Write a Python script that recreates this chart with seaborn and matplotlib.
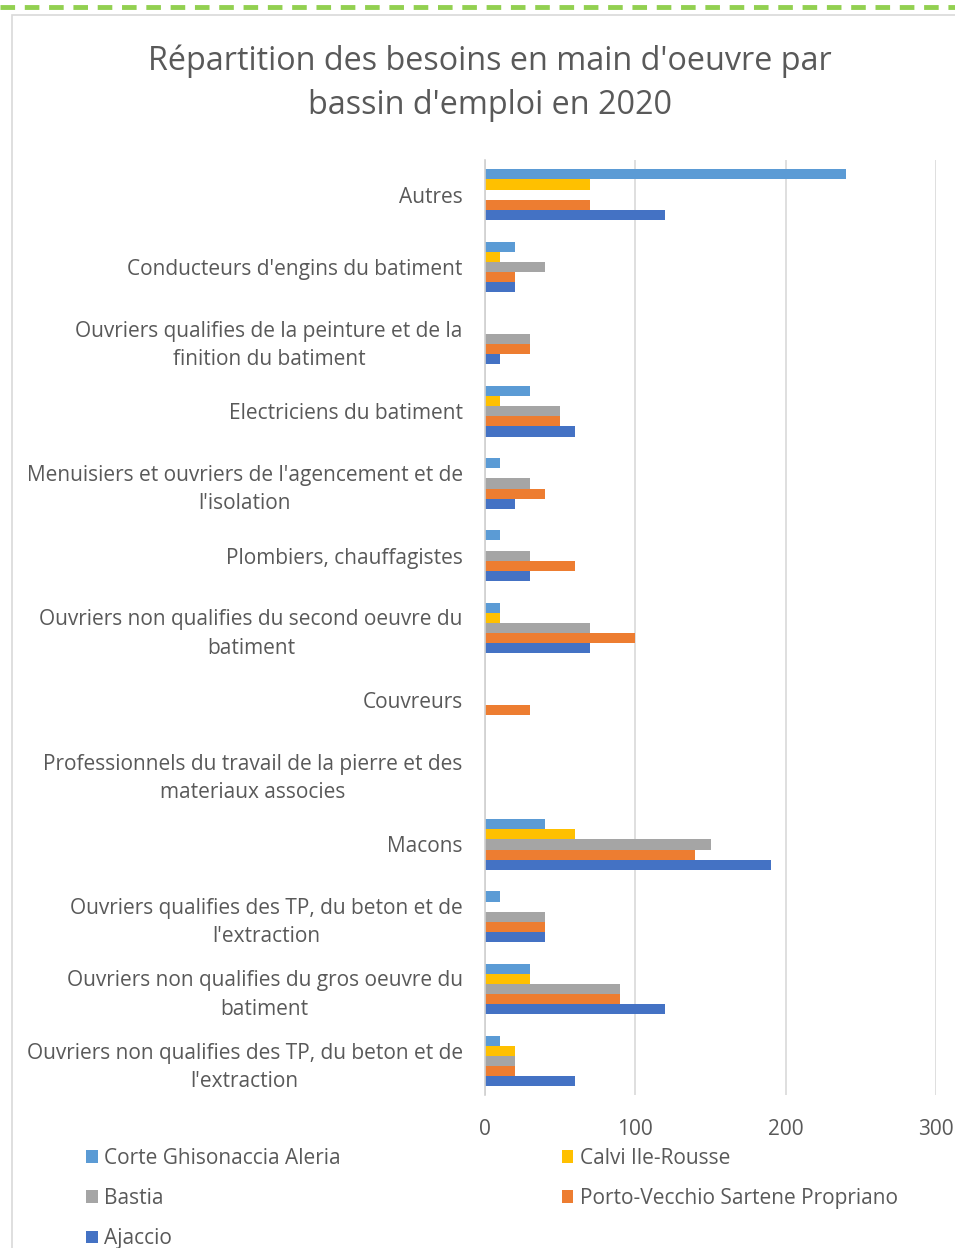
import matplotlib
matplotlib.use("Agg")
import matplotlib.pyplot as plt
import seaborn as sns
import pandas as pd
from matplotlib.lines import Line2D
from matplotlib.patches import Rectangle, Patch

categories = [
    "Autres",
    "Conducteurs d'engins du batiment",
    "Ouvriers qualifies de la peinture et de la\nfinition du batiment",
    "Electriciens du batiment",
    "Menuisiers et ouvriers de l'agencement et de\nl'isolation",
    "Plombiers, chauffagistes",
    "Ouvriers non qualifies du second oeuvre du\nbatiment",
    "Couvreurs",
    "Professionnels du travail de la pierre et des\nmateriaux associes",
    "Macons",
    "Ouvriers qualifies des TP, du beton et de\nl'extraction",
    "Ouvriers non qualifies du gros oeuvre du\nbatiment",
    "Ouvriers non qualifies des TP, du beton et de\nl'extraction",
]

series_names = ["Corte Ghisonaccia Aleria", "Calvi Ile-Rousse", "Bastia",
                "Porto-Vecchio Sartene Propriano", "Ajaccio"]

corte = [240, 20, 0, 30, 10, 10, 10, 0, 0, 40, 10, 30, 10]
calvi = [70, 10, 0, 10, 0, 0, 10, 0, 0, 60, 0, 30, 20]
bastia = [0, 40, 30, 50, 30, 30, 70, 0, 0, 150, 40, 90, 20]
porto = [70, 20, 30, 50, 40, 60, 100, 30, 0, 140, 40, 90, 20]
ajaccio = [120, 20, 10, 60, 20, 30, 70, 0, 0, 190, 40, 120, 60]

xticks = [0, 100, 200, 300]
colors = ["#5B9BD5", "#FFC000", "#A5A5A5", "#ED7D31", "#4472C4"]

rows = []
for name, vals in zip(series_names, [corte, calvi, bastia, porto, ajaccio]):
    for c, v in zip(categories, vals):
        rows.append({"cat": c, "serie": name, "val": v})
df = pd.DataFrame(rows)

sns.set_theme(style="white")
plt.rcParams["font.family"] = ["Open Sans", "DejaVu Sans"]
txt = "#595959"

fig = plt.figure(figsize=(9.55, 12.48), dpi=100)
ax = fig.add_axes([485 / 955, 1 - 1095 / 1248, (936 - 485) / 955, (1095 - 160) / 1248])

sns.barplot(data=df, y="cat", x="val", hue="serie", order=categories,
            hue_order=series_names, palette=colors, orient="h",
            width=0.70, gap=0, ax=ax, legend=False, saturation=1, linewidth=0)

ax.set_xlim(0, 300)
ax.set_ylim(len(categories) - 0.53, -0.48)
ax.set_xticks(xticks)
ax.set_xticklabels([str(t) for t in xticks])
ax.set_xlabel("")
ax.set_ylabel("")
ax.xaxis.grid(True, color="#D9D9D9", linewidth=1.2)
ax.yaxis.grid(False)
ax.set_axisbelow(True)
for s in ["top", "right", "bottom"]:
    ax.spines[s].set_visible(False)
ax.spines["left"].set_color("#D0D0D0")
ax.spines["left"].set_linewidth(1.2)
ax.tick_params(axis="y", length=0, pad=16, labelsize=15, labelcolor=txt)
ax.tick_params(axis="x", length=0, pad=17, labelsize=15, labelcolor=txt)
for lab in ax.get_yticklabels():
    lab.set_multialignment("center")
    lab.set_linespacing(1.45)

fig.text(490 / 955, 1 - 83 / 1248, "Répartition des besoins en main d'oeuvre par\nbassin d'emploi en 2020",
         ha="center", va="center", fontsize=23.3, color=txt, linespacing=1.45)

# legend, row-major order
handles = [Patch(facecolor=c, edgecolor="none") for c in colors]
order = [0, 2, 4, 1, 3]
fig.legend([handles[i] for i in order], [series_names[i] for i in order],
           loc="upper left", bbox_to_anchor=(78 / 955, 1 - 1152 / 1248, (906 - 78) / 955, 0.01),
           mode="expand", ncol=2, frameon=False, fontsize=15, labelcolor=txt,
           handlelength=0.55, handleheight=0.55, handletextpad=0.3,
           labelspacing=0.92, borderaxespad=0)

# chart frame and dashed top border
fig.add_artist(Rectangle((12 / 955, -0.01), 1.1, 1 - 15 / 1248 + 0.01, transform=fig.transFigure,
                         fill=False, edgecolor="#D9D9D9", linewidth=1.2))
fig.add_artist(Line2D([0, 1], [1 - 7 / 1248, 1 - 7 / 1248], transform=fig.transFigure,
                      color="#92D050", linewidth=3.5, linestyle=(0, (3, 2))))

fig.savefig("out.png", dpi=100)
